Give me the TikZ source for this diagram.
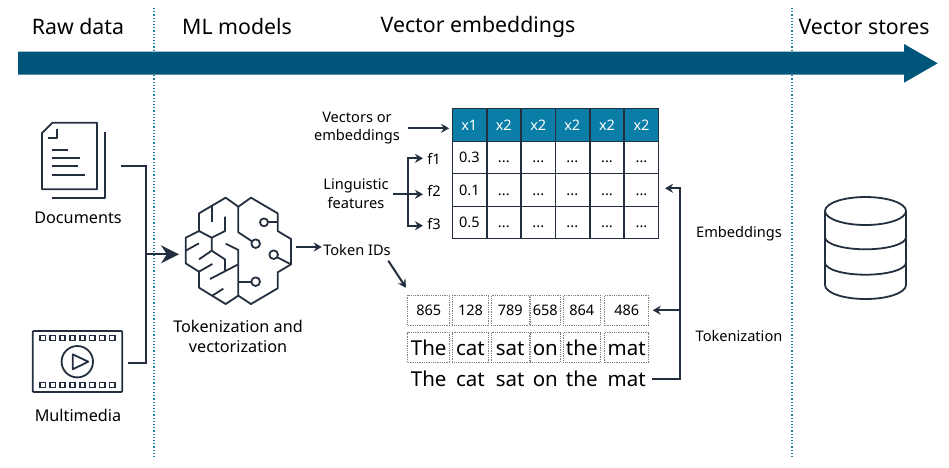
\documentclass[tikz,border=0pt]{standalone}
\usepackage{fontspec}
\setmainfont{Noto Sans}
\usetikzlibrary{arrows.meta}
\definecolor{inkdark}{HTML}{232F3E}
\definecolor{bandblue}{HTML}{00567A}
\definecolor{headblue}{HTML}{0A7EA6}
\definecolor{sepblue}{HTML}{1B7FA5}
\tikzset{
	heading/.style={font=\fontsize{21.3}{24}\selectfont,text=black},
	label/.style={font=\fontsize{16.2}{20}\selectfont,text=black,align=center},
	small/.style={font=\fontsize{14.6}{18.5}\selectfont,text=black,align=center},
	icon/.style={inkdark,line width=1.8pt,line join=round},
	link/.style={inkdark,line width=2pt},
	tip/.style={link,-{Stealth[length=8pt,width=9pt]}},
	sep/.style={sepblue,line width=1.2pt,dotted},
	headcell/.style={fill=headblue,draw=inkdark,line width=.8pt,text=white,minimum width=33.5pt,minimum height=32.5pt,inner sep=0pt,text height=11pt,text depth=0pt,font=\fontsize{14.5}{16}\selectfont},
	cell/.style={draw=inkdark,line width=.8pt,minimum width=33.5pt,minimum height=32.4pt,inner sep=0pt,text height=11pt,text depth=0pt,font=\fontsize{14.5}{16}\selectfont},
	tokbox/.style={draw=gray,line width=.8pt,densely dotted,minimum height=30pt,inner sep=0pt,text height=11pt,text depth=0pt,font=\fontsize{14.5}{16}\selectfont},
	wordbox/.style={draw=gray,line width=.8pt,densely dotted,minimum height=30pt,inner sep=0pt,text height=15pt,text depth=0pt,font=\fontsize{20.5}{24}\selectfont},
	word/.style={inner sep=0pt,text height=15pt,text depth=0pt,font=\fontsize{20.5}{24}\selectfont},
}
\begin{document}
\begin{tikzpicture}[x=1pt,y=-1pt]
	\useasboundingbox (0,0) rectangle (949,467);
	% section separators and the long arrow
	\draw[sep] (154,8) -- (154,458);
	\draw[sep] (792,8) -- (792,458);
	\fill[bandblue] (18,51.7) -- (904,51.7) -- (904,44) -- (937.7,63.3) -- (904,82.7) -- (904,74.7) -- (18,74.7) -- cycle;
	\path (78,27) node[heading] (h0) {Raw data};
	\path (237,27) node[heading] (h1) {ML models};
	\path (478,27) node[heading] (h2) {Vector embeddings};
	\path (864,27) node[heading] (h3) {Vector stores};
	% documents
	\draw[icon] (42,133) -- (52.5,122.7) -- (97,122.7) -- (97,189.3) -- (42,189.3) -- cycle;
	\draw[icon] (57.3,128.7) -- (57.3,137.7) -- (48.3,137.7);
	\draw[icon] (105,132.3) -- (105,198.3) -- (51.7,198.3);
	\draw[icon] (52,149.7) -- (68,149.7);
	\draw[icon] (52,158) -- (80,158);
	\draw[icon] (52,166.3) -- (77.7,166.3);
	\draw[icon] (52,174.7) -- (85,174.7);
	\path (78,217.5) node[label] (v0) {Documents};
	% multimedia
	\draw[icon,rounded corners=1pt] (32.7,331) rectangle (122.3,392);
	\foreach \px in {42.7,52.6,62.5,72.5,82.5,92.4,102.4,112.3} {
		\draw[inkdark,line width=1.3pt] (\px-2.6,335.2) rectangle (\px+2.6,340.2);
		\draw[inkdark,line width=1.3pt] (\px-2.6,382.5) rectangle (\px+2.6,387.5);
	}
	\draw[icon] (77.3,361.7) circle (15.7);
	\draw[icon] (72.7,354.3) -- (88.3,361.7) -- (72.7,369.3) -- cycle;
	\path (78,415) node[label] (v1) {Multimedia};
	% inputs go into the model
	\coordinate (docend) at (121,166);
	\coordinate (medend) at (128.3,362.7);
	\coordinate (join) at (146,254.3);
	\coordinate (modelin) at (179,254.3);
	\draw[link] (docend) -- (146,166) -- (146,362.7) -- (medend);
	\draw[link,-{Stealth[length=18pt,width=18pt]}] (join) -- (modelin);
	% brain
	\begin{scope}[shift={(170,180)},scale=1/3]
		\draw[icon] (167,53) -- (205,80) -- (243,53) -- (323,100) -- (323,153) -- (363,177) -- (363,253) -- (323,277) -- (323,325) -- (243,372) -- (205,347) -- (167,372) -- (87,323) -- (87,275) -- (47,250) -- (47,173) -- (87,153) -- (87,100) -- cycle;
		\draw[icon] (205,80) -- (205,157) -- (246,184);
		\draw[icon] (257,191) circle (13);
		\draw[icon] (282,127) circle (12);
		\draw[icon] (295,127) -- (323,127);
		\draw[icon] (311,224) circle (13);
		\draw[icon] (322,232) -- (363,253);
		\draw[icon] (205,347) -- (205,210) -- (167,191);
		\draw[icon] (205,305) -- (244,305);
		\draw[icon] (257,305) circle (13);
		\draw[icon] (205,253) -- (120,297);
		\draw[icon] (87,153) -- (125,173) -- (165,153) -- (165,110);
		\draw[icon] (127,78) -- (127,127);
		\draw[icon] (125,173) -- (125,212) -- (165,238) -- (165,272);
		\draw[icon] (125,212) -- (87,238);
		\draw[icon] (47,212) -- (87,190);
		\draw[icon] (87,275) -- (127,252);
		\draw[icon] (127,347) -- (160,326);
	\end{scope}
	\coordinate (modelout) at (296,247);
	\path (238,336) node[label] (v2) {Tokenization and\\vectorization};
	\path (357,250) node[small] (v3) {Token IDs};
	\draw[tip,shorten >=-2pt] (modelout) -- (v3.west |- modelout);
	% table
	\path (357,128) node[small] (v4) {Vectors or\\embeddings};
	\path (356,193.5) node[small] (v5) {Linguistic\\features};
	\path (434,159.3) node[small] (f1) {f1};
	\path (434,190.7) node[small] (f2) {f2};
	\path (434,223.7) node[small] (f3) {f3};
	\path (469.3,125) node[headcell] (c00) {x1};
	\path (503.8,125) node[headcell] (c01) {x2};
	\path (538.3,125) node[headcell] (c02) {x2};
	\path (572.3,125) node[headcell] (c03) {x2};
	\path (607,125) node[headcell] (c04) {x2};
	\path (641.5,125) node[headcell] (c05) {x2};
	\path (469.3,157.4) node[cell] (c10) {0.3};
	\path (503.8,157.4) node[cell] (c11) {...};
	\path (538.3,157.4) node[cell] (c12) {...};
	\path (572.3,157.4) node[cell] (c13) {...};
	\path (607,157.4) node[cell] (c14) {...};
	\path (641.5,157.4) node[cell] (c15) {...};
	\path (469.3,189.8) node[cell] (c20) {0.1};
	\path (503.8,189.8) node[cell] (c21) {...};
	\path (538.3,189.8) node[cell] (c22) {...};
	\path (572.3,189.8) node[cell] (c23) {...};
	\path (607,189.8) node[cell] (c24) {...};
	\path (641.5,189.8) node[cell] (c25) {...};
	\path (469.3,222.4) node[cell] (c30) {0.5};
	\path (503.8,222.4) node[cell] (c31) {...};
	\path (538.3,222.4) node[cell] (c32) {...};
	\path (572.3,222.4) node[cell] (c33) {...};
	\path (607,222.4) node[cell] (c34) {...};
	\path (641.5,222.4) node[cell] (c35) {...};
	\coordinate (vecstart) at (407.7,128.3);
	\draw[tip,shorten >=3pt] (vecstart) -- (c00.west |- vecstart);
	\coordinate (lingjoin) at (407.7,194.3);
	\coordinate (lingtip) at (423,194.3);
	\coordinate (toptip) at (423,158.3);
	\coordinate (bottip) at (423,225.7);
	\coordinate (lingstart) at (393.3,194.3);
	\draw[link] (lingstart) -- (lingjoin);
	\draw[tip] (lingjoin) -- (lingtip);
	\draw[tip] (lingjoin) |- (toptip);
	\draw[tip] (lingjoin) |- (bottip);
	% tokens
	\coordinate (idarrow) at (388.3,260.7);
	\coordinate (idtip) at (406,287.7);
	\draw[tip] (idarrow) -- (idtip);
	\path (428.7,310.3) node[tokbox,minimum width=42pt] (t0) {865};
	\path (470.5,310.3) node[tokbox,minimum width=36.4pt] (t1) {128};
	\path (510.2,310.3) node[tokbox,minimum width=37.7pt] (t2) {789};
	\path (545.3,310.3) node[tokbox,minimum width=30pt] (t3) {658};
	\path (581.8,310.3) node[tokbox,minimum width=37pt] (t4) {864};
	\path (626.7,310.3) node[tokbox,minimum width=44pt] (t5) {486};
	\path (428.7,347.5) node[wordbox,minimum width=42pt] (b0) {The};
	\path (470.5,347.5) node[wordbox,minimum width=36.4pt] (b1) {cat};
	\path (510.2,347.5) node[wordbox,minimum width=37.7pt] (b2) {sat};
	\path (545.3,347.5) node[wordbox,minimum width=30pt] (b3) {on};
	\path (581.8,347.5) node[wordbox,minimum width=37pt] (b4) {the};
	\path (626.7,347.5) node[wordbox,minimum width=44pt] (b5) {mat};
	\path (428.7,378.7) node[word] (w0) {The};
	\path (470.5,378.7) node[word] (w1) {cat};
	\path (510.2,378.7) node[word] (w2) {sat};
	\path (545.3,378.7) node[word] (w3) {on};
	\path (581.8,378.7) node[word] (w4) {the};
	\path (626.7,378.7) node[word] (w5) {mat};
	% back up to the table
	\coordinate (textend) at (652.3,378.7);
	\coordinate (upjoin) at (679.7,310.3);
	\coordinate (tabletip) at (665,188.3);
	\coordinate (tokentip) at (652.7,310.3);
	\draw[tip] (textend) -| (tabletip -| upjoin) -- (tabletip);
	\draw[tip] (upjoin) -- (tokentip);
	\path (739,233.5) node[small] (v6) {Embeddings};
	\path (739,336) node[small] (v7) {Tokenization};
	% vector store
	\draw[icon] (865.5,211) ellipse (40.5 and 14);
	\draw[icon] (825,211) -- (825,285) arc (180:0:40.5 and 14) -- (906,211);
	\draw[icon] (825,237.3) arc (180:0:40.5 and 12);
	\draw[icon] (825,262.7) arc (180:0:40.5 and 12);
\end{tikzpicture}
\end{document}
